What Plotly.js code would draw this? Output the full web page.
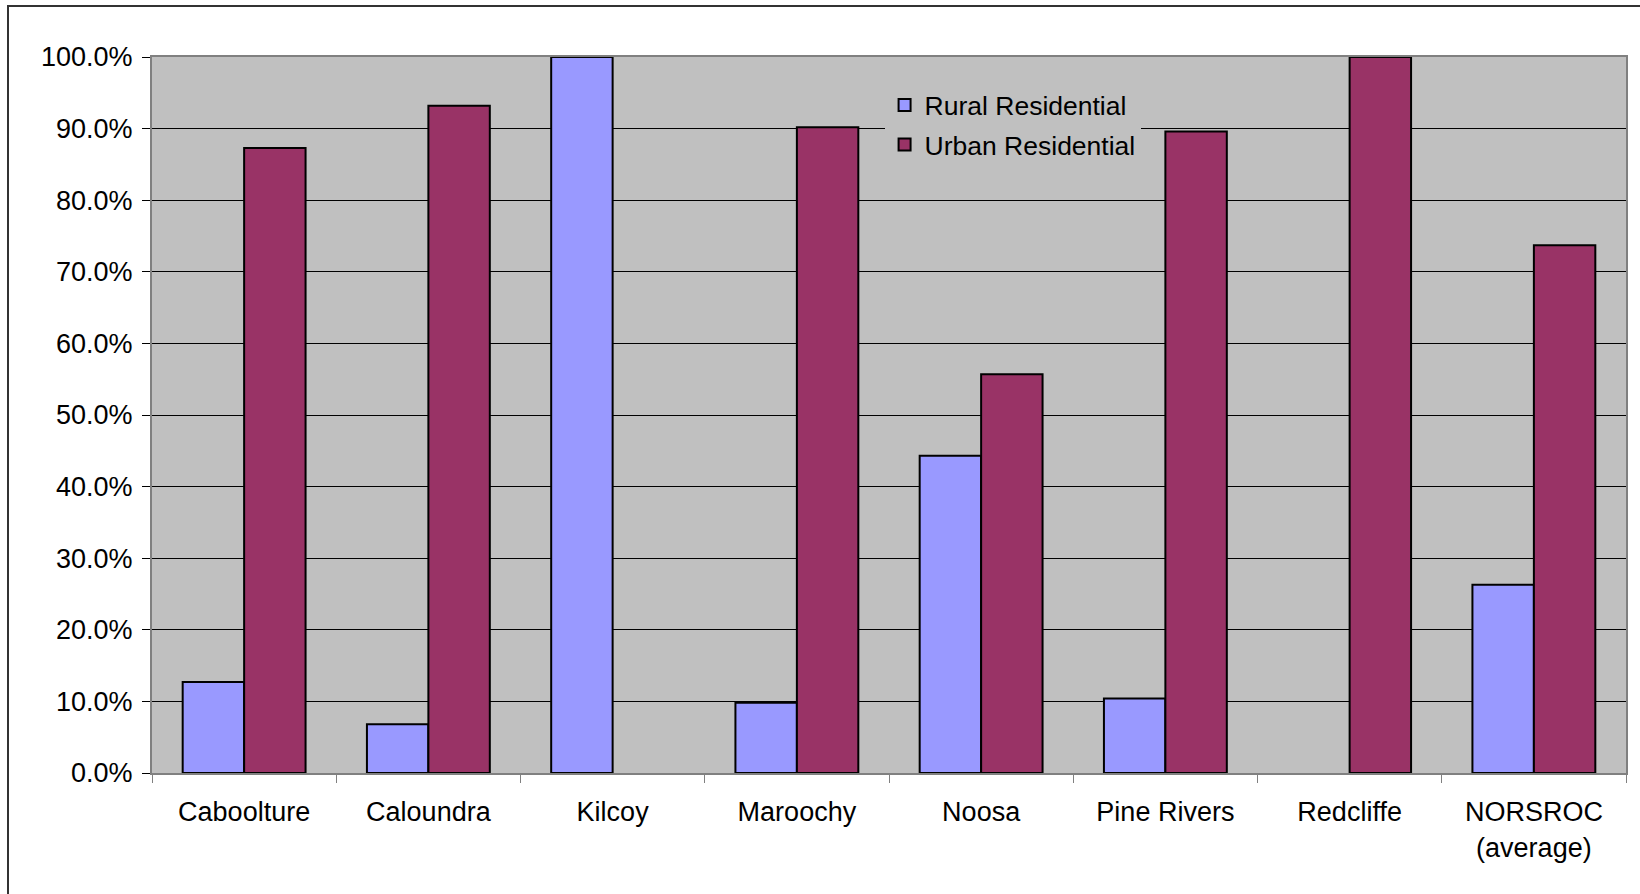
<!DOCTYPE html>
<html>
<head>
<meta charset="utf-8">
<script src="https://cdn.plot.ly/plotly-3.0.1.min.js"></script>
<style>
  html, body { margin: 0; padding: 0; background: #ffffff; }
  #frame { position: absolute; left: 7px; top: 5px; width: 1640px; height: 900px;
           border-left: 2px solid #333333; border-top: 2px solid #333333; box-sizing: border-box; pointer-events: none; }
  #chart { position: absolute; left: 0; top: 0; width: 1640px; height: 894px; }
</style>
</head>
<body>
<div id="chart"></div>
<div id="frame"></div>
<script>
const categories = ["Caboolture", "Caloundra", "Kilcoy", "Maroochy", "Noosa", "Pine Rivers", "Redcliffe", "NORSROC<br>(average)"];
const ruralResidential = [12.7, 6.8, 100.0, 9.8, 44.3, 10.4, 0.0, 26.3];
const urbanResidential = [87.3, 93.2, 0.0, 90.2, 55.7, 89.6, 100.0, 73.7];
const seriesNames = ["Rural Residential", "Urban Residential"];

const FONT = "Liberation Sans, Arial, sans-serif";
const outline = vals => vals.map(v => (v > 0 ? 2 : 0));

const traces = [
  {
    type: "bar", name: seriesNames[0], x: categories, y: ruralResidential,
    legendgroup: "rural",
    marker: { color: "#9999FF", line: { color: "#000000", width: outline(ruralResidential) } },
    hoverinfo: "x+y"
  },
  {
    type: "bar", name: seriesNames[1], x: categories, y: urbanResidential,
    legendgroup: "urban",
    marker: { color: "#993366", line: { color: "#000000", width: outline(urbanResidential) } },
    hoverinfo: "x+y"
  }
];

const layout = {
  width: 1640, height: 894,
  margin: { l: 152, r: 14, t: 57, b: 121 },
  paper_bgcolor: "#ffffff",
  plot_bgcolor: "#C0C0C0",
  font: { family: FONT, size: 27, color: "#000000" },
  barmode: "group",
  bargap: 0.333,
  bargroupgap: 0,
  showlegend: true,
  legend: {
    x: 0.497, xanchor: "left", y: 0.966, yanchor: "top",
    bgcolor: "#C0C0C0", borderwidth: 0,
    font: { family: FONT, size: 26.5, color: "#000000" },
    tracegroupgap: 2, itemwidth: 30
  },
  xaxis: {
    type: "category",
    tickson: "boundaries",
    ticks: "outside", ticklen: 8, tickwidth: 1, tickcolor: "#808080",
    ticklabelstandoff: 14,
    showline: true, linecolor: "#808080", linewidth: 2, mirror: true,
    showgrid: false, zeroline: false,
    tickfont: { family: FONT, size: 27, color: "#000000" },
    automargin: false
  },
  yaxis: {
    range: [0, 100], dtick: 10, tick0: 0,
    tickformat: ".1f", ticksuffix: "%",
    ticks: "outside", ticklen: 8, tickwidth: 1, tickcolor: "#000000",
    ticklabelstandoff: 4,
    showline: true, linecolor: "#808080", linewidth: 2, mirror: true,
    showgrid: true, gridcolor: "#000000", gridwidth: 1,
    zeroline: false,
    tickfont: { family: FONT, size: 27, color: "#000000" },
    automargin: false
  }
};

Plotly.newPlot("chart", traces, layout, { displayModeBar: false, responsive: false });
</script>
</body>
</html>
